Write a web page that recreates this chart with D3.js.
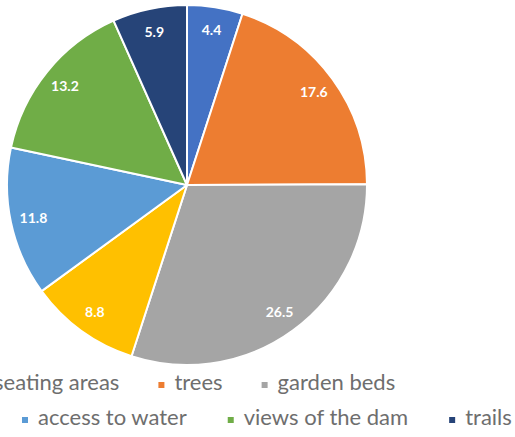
<!DOCTYPE html>
<html>
<head>
<meta charset="utf-8">
<script src="https://cdn.jsdelivr.net/npm/d3@7"></script>
<style>
  html, body { margin: 0; padding: 0; background: #fff; }
  svg { display: block; }
</style>
</head>
<body>
<div class="chart"></div>
<script>

///////////////////////////////////////////////////////////////////////////
////////////////////////////////// Data ///////////////////////////////////
///////////////////////////////////////////////////////////////////////////

var categories = ["seating areas", "trees", "garden beds", null, "access to water", "views of the dam", "trails"]
var values = [4.4, 17.6, 26.5, 8.8, 11.8, 13.2, 5.9]
var colors = ["#4472C4", "#ED7D31", "#A5A5A5", "#FFC000", "#5B9BD5", "#70AD47", "#264478"]
var legendRows = [[0, 1, 2], [4, 5, 6]]

///////////////////////////////////////////////////////////////////////////
///////////////////////////////// Globals /////////////////////////////////
///////////////////////////////////////////////////////////////////////////

var width = 515, height = 437
var cx = 187, cy = 185, radius = 180

var svg = d3.select(".chart").append("svg")
  .attr("width", width)
  .attr("height", height)

var data = values.map(function(v, i) {
  return { name: categories[i], value: v, color: colors[i] }
})

///////////////////////////////////////////////////////////////////////////
/////////////////////////////////// Pie ///////////////////////////////////
///////////////////////////////////////////////////////////////////////////

var pie = d3.pie().sort(null).value(function(d) { return d.value })
var arc = d3.arc().innerRadius(0).outerRadius(radius)
var labelArc = d3.arc().innerRadius(157).outerRadius(157)

var g = svg.append("g").attr("transform", "translate(" + cx + "," + cy + ")")

g.selectAll(".slice")
  .data(pie(data))
  .enter().append("path")
    .attr("class", "slice")
    .attr("d", arc)
    .attr("fill", function(d) { return d.data.color })
    .attr("stroke", "#fff")
    .attr("stroke-width", 2)
    .attr("stroke-linejoin", "round")

g.selectAll(".label")
  .data(pie(data))
  .enter().append("text")
    .attr("class", "label")
    .attr("transform", function(d) { return "translate(" + labelArc.centroid(d) + ")" })
    .attr("text-anchor", "middle")
    .attr("dy", "0.36em")
    .style("font-family", "Lato, 'Open Sans', sans-serif")
    .style("font-size", "14px")
    .style("font-weight", "bold")
    .style("fill", "#fff")
    .text(function(d) { return d3.format(".1f")(d.data.value) })

///////////////////////////////////////////////////////////////////////////
///////////////////////////////// Legend //////////////////////////////////
///////////////////////////////////////////////////////////////////////////

// first row runs off the left edge, as in the source image
var rowStart = [-22, 22]
var rowBase = [390, 425]
var rowGap = [39, 41]

legendRows.forEach(function(row, r) {
  var x = rowStart[r]
  row.forEach(function(idx) {
    var item = svg.append("g").attr("class", "legend-item")
    item.append("rect")
      .attr("x", x)
      .attr("y", rowBase[r] - 8)
      .attr("width", 6)
      .attr("height", 6)
      .attr("fill", colors[idx])
    var t = item.append("text")
      .attr("x", x + 16)
      .attr("y", rowBase[r])
      .style("font-family", "Lato, 'Open Sans', sans-serif")
      .style("font-size", "22px")
      .style("fill", "#6e6e6e")
      .text(categories[idx])
    x += 16 + t.node().getComputedTextLength() + rowGap[r]
  })
})

</script>
</body>
</html>
